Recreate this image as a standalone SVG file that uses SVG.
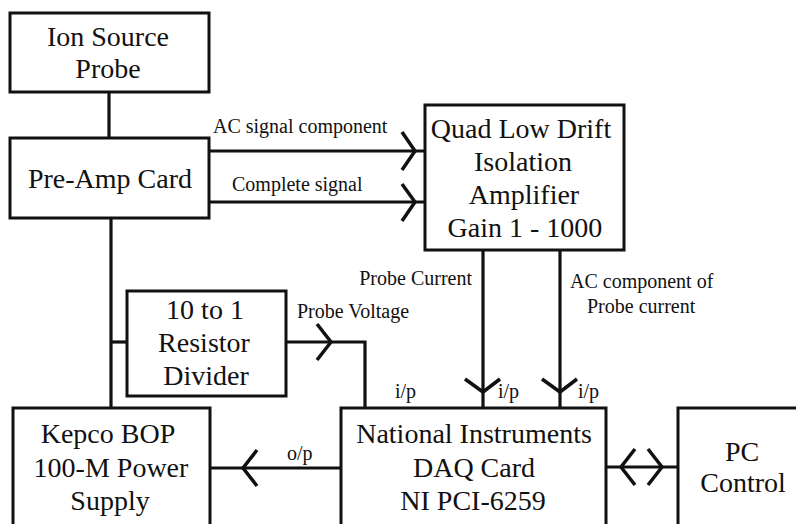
<svg xmlns="http://www.w3.org/2000/svg" width="796" height="524" viewBox="0 0 796 524">
<style>
.box{fill:#fff;stroke:#111;stroke-width:3}
.t{font-family:"Liberation Serif","Times New Roman",serif;font-size:28px;fill:#111;text-anchor:middle}
.l{font-family:"Liberation Serif","Times New Roman",serif;font-size:20px;fill:#111}
.w{fill:none;stroke:#111;stroke-width:3.2}
.ah{fill:none;stroke:#111;stroke-width:3.5;stroke-linejoin:miter}
</style>
<rect width="796" height="524" fill="#fff"/>
<g id="connectors">
<path class="w" d="M109 92V138"/>
<path class="w" d="M111 218V408"/>
<path class="w" d="M209 151H425"/>
<path class="ah" d="M402 132L415 151L402 170"/>
<path class="w" d="M209 202H425"/>
<path class="ah" d="M402 184L415 202L402 221"/>
<path class="w" d="M111 342H127"/>
<path class="w" d="M286 342H365V408"/>
<path class="ah" d="M317 324L331 342L317 360"/>
<path class="w" d="M483 250V408"/>
<path class="ah" d="M465 379L483 392L500 379"/>
<path class="w" d="M560 250V408"/>
<path class="ah" d="M542 379L560 392L577 379"/>
<path class="w" d="M341 468H210"/>
<path class="ah" d="M257 450L243 468L257 486"/>
<path class="w" d="M606 467H678"/>
<path class="ah" d="M635 449L621 467L635 485"/>
<path class="ah" d="M648 449L662 467L648 485"/>
<text class="l" x="213" y="133">AC signal component</text>
<text class="l" x="232" y="191">Complete signal</text>
<text class="l" x="472" y="285" text-anchor="end">Probe Current</text>
<text class="l" x="570" y="288">AC component of</text>
<text class="l" x="587" y="313">Probe current</text>
<text class="l" x="297" y="318">Probe Voltage</text>
<text class="l" x="395" y="398">i/p</text>
<text class="l" x="498" y="398">i/p</text>
<text class="l" x="578" y="398">i/p</text>
<text class="l" x="287" y="460">o/p</text>
</g>
<g id="ion-source">
<rect class="box" x="10" y="13" width="199" height="79"/>
<text class="t" x="108" y="46">Ion Source</text>
<text class="t" x="108" y="78">Probe</text>
</g>
<g id="pre-amp">
<rect class="box" x="10" y="138" width="199" height="80"/>
<text class="t" x="110" y="188">Pre-Amp Card</text>
</g>
<g id="quad-amp">
<rect class="box" x="425" y="105" width="199" height="145"/>
<text class="t" x="521" y="138">Quad Low Drift</text>
<text class="t" x="523" y="171">Isolation</text>
<text class="t" x="524" y="204">Amplifier</text>
<text class="t" x="525" y="237">Gain 1 - 1000</text>
</g>
<g id="resistor-divider">
<rect class="box" x="127" y="291" width="159" height="105"/>
<text class="t" x="205" y="319">10 to 1</text>
<text class="t" x="204" y="352">Resistor</text>
<text class="t" x="206" y="385">Divider</text>
</g>
<g id="kepco">
<rect class="box" x="13" y="408" width="197" height="130"/>
<text class="t" x="108" y="443">Kepco BOP</text>
<text class="t" x="111" y="477">100-M Power</text>
<text class="t" x="110" y="510">Supply</text>
</g>
<g id="daq">
<rect class="box" x="341" y="408" width="265" height="130"/>
<text class="t" x="474" y="443">National Instruments</text>
<text class="t" x="474" y="477">DAQ Card</text>
<text class="t" x="473" y="510">NI PCI-6259</text>
</g>
<g id="pc-control">
<rect class="box" x="678" y="408" width="140" height="130"/>
<text class="t" x="742" y="461">PC</text>
<text class="t" x="743" y="492">Control</text>
</g>
</svg>
